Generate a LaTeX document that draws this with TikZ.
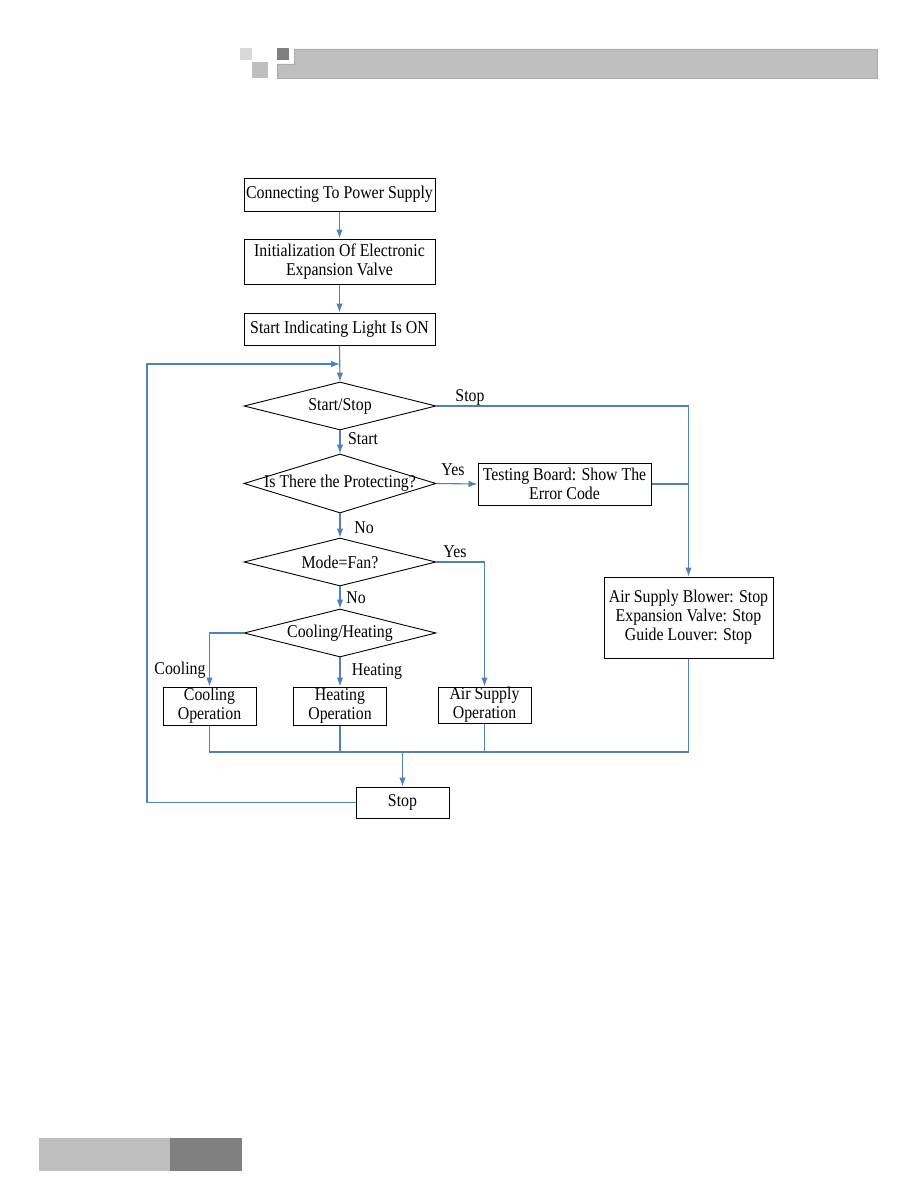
\documentclass[tikz,border=0pt]{standalone}
\usepackage{fontspec}
\setmainfont{Liberation Serif}[FakeStretch=0.88]
\usetikzlibrary{shapes.geometric,arrows.meta}
\definecolor{flowblue}{RGB}{79,129,189}
\definecolor{hdrlight}{RGB}{217,217,217}
\definecolor{hdrmid}{RGB}{191,191,191}
\definecolor{hdrdark}{RGB}{128,128,128}
\begin{document}
\begin{tikzpicture}[x=1pt,y=-1pt,
  every node/.style={font=\fontsize{18}{19}\selectfont},
  box/.style={draw, line width=1pt, inner sep=0pt, align=center, anchor=center},
  dia/.style={diamond, draw, line width=0.9pt, aspect=4, inner sep=0pt, minimum width=192pt, minimum height=48pt},
  conn/.style={draw=flowblue, line width=1.1pt},
  arr/.style={conn, -{Latex[length=9pt,width=6.5pt]}},
  lbl/.style={inner sep=0pt, anchor=center}]
\useasboundingbox (0,0) rectangle (918,1188);
% header
\fill[hdrlight] (240,48) rectangle (252,60);
\fill[hdrdark] (277,48) rectangle (289,60);
\fill[hdrmid] (252,62) rectangle (268,78);
\filldraw[fill=hdrmid, draw=hdrmid!90!black, line width=0.6pt] (277,64) -- (294,64) -- (294,49) -- (877,49) -- (877,78) -- (277,78) -- cycle;
% footer
\fill[hdrmid] (39,1138) rectangle (170,1171);
\fill[hdrdark] (170,1138) rectangle (242,1171);
% boxes
\node[box, minimum width=191pt, minimum height=33pt] (power) at (339.5,194.5) {Connecting To Power Supply};
\node[box, minimum width=191pt, minimum height=45pt] (init) at (339.5,261.5) {Initialization Of Electronic\\Expansion Valve};
\node[box, minimum width=191pt, minimum height=32pt] (light) at (339.5,329) {Start Indicating Light Is ON};
\node[dia] (d1) at (340,406) {\makebox[0pt]{Start/Stop}};
\node[dia, minimum height=59pt] (d2) at (340,483.5) {\makebox[0pt]{Is There the Protecting?}};
\node[dia] (d3) at (340,562) {\makebox[0pt]{Mode=Fan?}};
\node[dia] (d4) at (340,633) {\makebox[0pt]{Cooling/Heating}};
\node[box, minimum width=173pt, minimum height=42pt] (test) at (564.5,484) {Testing Board: Show The\\Error Code};
\node[box, minimum width=169pt, minimum height=81pt] (blower) at (688.5,617.5) {Air Supply Blower: Stop\\Expansion Valve: Stop\\Guide Louver: Stop};
\node[box, minimum width=93pt, minimum height=38pt] (cool) at (209.5,706) {Cooling\\Operation};
\node[box, minimum width=93pt, minimum height=38pt] (heat) at (340,706) {Heating\\Operation};
\node[box, minimum width=93pt, minimum height=36pt] (air) at (484.5,705) {Air Supply\\Operation};
\node[box, minimum width=93pt, minimum height=31pt] (stop) at (402.5,802.5) {Stop};
% labels
\node[lbl] (lstop) at (470,397) {Stop};
\node[lbl] (lstart) at (363,439) {Start};
\node[lbl] (lyes1) at (453,470) {Yes};
\node[lbl] (lno1) at (364,528) {No};
\node[lbl] (lyes2) at (455,552) {Yes};
\node[lbl] (lno2) at (356,598) {No};
\node[lbl] (lcool) at (180,670) {Cooling};
\node[lbl] (lheat) at (377,671) {Heating};
% helper coordinates
\coordinate (join) at (340,364);
\coordinate (loopc) at (147,364);
\coordinate (busL) at (209.5,752);
\coordinate (busR) at (688.5,752);
% connectors
\draw[arr] (power.south) -- (init.north);
\draw[arr] (init.south) -- (light.north);
\draw[arr] (light.south) -- (d1.north);
\draw[arr] (stop.west) -| (loopc) -- (join);
\draw[arr] (d1.south) -- (d2.north);
\draw[arr] (d2.south) -- (d3.north);
\draw[arr] (d3.south) -- (d4.north);
\draw[arr] (d2.east) -- (test.west);
\draw[arr] (d1.east) -| (blower.north);
\draw[conn] (test.east) -- (test.east -| blower.north);
\draw[arr] (d3.east) -| (air.north);
\draw[arr] (d4.west) -| (cool.north);
\draw[arr] (d4.south) -- (heat.north);
\draw[conn] (cool.south) |- (busR);
\draw[conn] (blower.south) -- (busR);
\draw[conn] (heat.south) -- (heat.south |- busL);
\draw[conn] (air.south) -- (air.south |- busL);
\draw[arr] (stop.north |- busL) -- (stop.north);
\end{tikzpicture}
\end{document}
